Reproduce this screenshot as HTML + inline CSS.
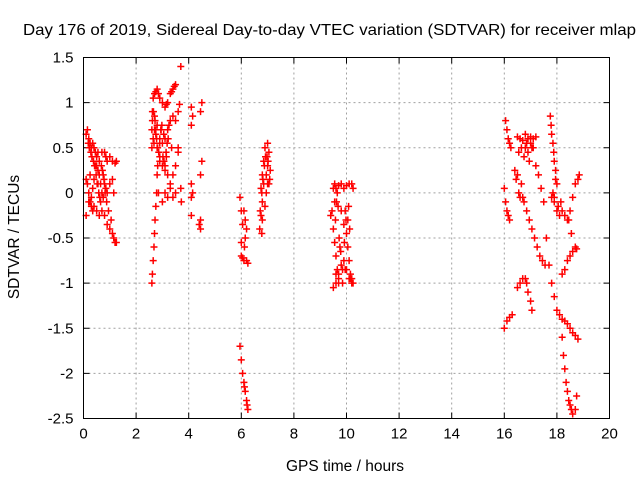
<!DOCTYPE html>
<html><head><meta charset="utf-8"><style>
body{margin:0;background:#fff}
svg{display:block;font-family:"Liberation Sans",sans-serif}
</style></head><body>
<svg id="chart" width="640" height="480" viewBox="0 0 640 480" xmlns="http://www.w3.org/2000/svg">
<text x="23" y="35" font-size="16" textLength="613" lengthAdjust="spacingAndGlyphs">Day 176 of 2019, Sidereal Day-to-day VTEC variation (SDTVAR) for receiver mlap</text>
<text x="345" y="471" font-size="15.5" text-anchor="middle">GPS time / hours</text>
<text x="19" y="237" font-size="15.5" text-anchor="middle" transform="rotate(-90 19 237)">SDTVAR / TECUs</text>
<g id="grid"></g>
<g id="ticks"></g>
<g id="marks"></g>
<rect x="83.5" y="57.5" width="526" height="361" fill="none" stroke="#000" stroke-width="1"/>
</svg>
<script>
const xTicks=[0,2,4,6,8,10,12,14,16,18,20];
const yTicks=[1.5,1,0.5,0,-0.5,-1,-1.5,-2,-2.5];
const yTickLabels=["1.5","1","0.5","0","-0.5","-1","-1.5","-2","-2.5"];
const hours=[
0.1,0.15,0.2,0.25,0.3,0.35,0.4,0.45,0.5,0.55,0.6,0.7,0.8,0.85,0.9,1.0,1.1,1.2,1.25,
0.1,0.15,0.2,0.25,0.3,0.35,0.4,0.45,0.5,0.55,0.6,0.65,0.7,0.75,0.8,0.85,0.9,1.0,1.1,1.15,
0.1,0.2,0.3,0.4,0.5,0.6,0.7,0.8,0.9,1.0,1.1,1.15,1.2,1.25,0.25,0.35,0.55,0.65,0.75,
0.18,0.22,0.28,0.32,0.38,0.42,0.48,0.52,0.58,0.62,0.68,0.72,0.78,0.82,0.88,0.95,1.05,
2.6,2.62,2.65,2.68,2.7,2.72,2.75,2.78,2.8,2.82,
2.6,2.6,2.62,2.65,2.7,2.75,2.8,2.85,2.9,3.0,3.1,3.15,3.2,3.3,3.35,3.4,3.45,3.5,
2.65,2.7,2.75,2.8,2.9,3.0,3.1,3.2,3.3,3.4,3.5,2.68,2.72,2.78,2.95,3.05,3.25,
2.8,2.9,3.0,3.1,3.2,3.3,3.4,3.5,3.6,2.85,3.0,3.1,3.2,3.3,3.4,3.5,2.9,3.15,3.35,
2.62,2.66,2.7,2.74,2.78,2.82,2.86,2.9,2.94,2.98,3.02,3.06,3.1,3.14,3.18,3.22,
3.7,3.65,3.6,3.72,3.7,3.6,
4.1,4.15,4.1,4.5,4.45,4.5,4.45,4.1,4.1,4.15,4.1,4.4,4.45,4.45,
5.95,6.0,6.05,6.0,6.1,6.2,6.15,6.2,6.15,6.1,6.05,6.0,6.25,6.12,
5.95,6.0,6.05,6.1,6.12,6.15,6.2,6.22,6.25,
6.7,6.75,6.8,6.75,6.8,6.85,6.9,7.0,7.05,7.0,6.95,7.0,7.1,6.8,6.9,6.85,6.95,7.05,6.78,
6.72,6.78,6.82,6.88,6.92,6.98,7.02,7.08,
9.5,9.55,9.6,9.65,9.7,9.8,9.9,10.0,10.1,10.2,10.25,9.45,9.5,9.55,9.6,9.65,9.7,
9.8,9.9,10.0,10.05,10.1,10.15,10.2,10.2,9.5,9.6,9.7,9.8,9.9,10.0,10.1,10.2,10.25,9.55,9.75,9.95,10.05,9.4,
9.58,9.62,9.68,9.72,9.78,9.85,9.92,9.98,10.08,10.12,9.6,9.7,9.85,9.95,10.15,
16.05,16.1,16.15,16.2,16.25,
16.5,16.6,16.7,16.8,16.9,17.0,17.1,17.2,16.55,16.65,16.75,16.85,16.95,17.05,
16.0,16.05,16.1,16.15,16.2,
16.4,16.45,16.5,16.55,16.6,16.65,16.7,
16.75,16.85,16.95,17.05,17.15,17.25,17.35,17.45,17.55,
17.75,17.78,17.8,17.85,17.88,17.9,17.95,18.0,17.85,17.9,
17.8,17.9,18.0,18.1,18.2,18.3,18.4,
18.5,18.6,18.7,18.8,18.85,
18.2,18.3,18.4,18.5,18.6,18.7,18.75,
16.5,16.6,16.7,16.8,16.85,16.9,17.0,17.05,
16.0,16.1,16.2,16.3,
17.7,17.8,17.9,18.0,18.1,18.2,18.3,18.4,18.5,18.6,18.7,18.8,
18.2,18.25,18.3,18.35,18.4,18.45,18.5,18.55,18.6,18.7,18.75,
16.8,16.9,17.0,17.1,17.2,17.3,17.4,17.5,17.6,17.95,18.05,18.15,18.45,18.55
];
const values=[
0.65,0.7,0.6,0.55,0.5,0.55,0.5,0.45,0.4,0.45,0.35,0.45,0.45,0.4,0.35,0.4,0.35,0.33,0.35,
0.15,0.1,0.0,-0.1,-0.15,0.05,0.15,0.3,0.3,0.25,0.2,0.1,0.0,-0.05,0.1,0.05,0.0,0.1,0.15,0.0,
-0.25,-0.1,-0.05,-0.15,-0.2,-0.25,-0.2,-0.25,-0.35,-0.4,-0.45,-0.5,-0.55,-0.55,0.2,-0.2,0.1,-0.1,0.2,
0.55,0.5,0.45,0.4,0.35,0.3,0.2,0.1,0.0,-0.05,0.3,0.25,0.15,0.0,-0.1,-0.2,-0.3,
-1.0,-0.9,-0.75,-0.6,-0.45,-0.3,-0.15,0.0,0.2,0.3,
0.5,0.7,0.9,1.05,1.1,1.12,1.15,1.1,1.05,1.0,0.95,0.98,1.0,1.1,1.12,1.15,1.18,1.2,
0.6,0.7,0.65,0.75,0.6,0.55,0.6,0.7,0.8,0.85,0.8,0.55,0.8,0.6,0.7,0.65,0.75,
0.5,0.4,0.3,0.25,0.2,0.1,0.2,0.3,0.45,0.0,-0.1,0.0,-0.05,0.05,-0.05,0.0,0.35,0.4,0.5,
0.8,0.9,0.85,0.7,0.6,0.5,0.45,0.55,0.7,0.75,0.4,0.35,0.3,0.45,0.55,0.6,
1.4,0.98,0.9,-0.1,0.05,0.5,
0.95,0.85,0.75,1.0,0.9,0.35,0.2,0.1,-0.05,0.0,-0.25,-0.35,-0.4,-0.3,
-0.05,-0.7,-0.72,-0.55,-0.75,-0.75,-0.5,-0.4,-0.3,-0.2,-0.35,-0.2,-0.78,-0.6,
-1.7,-1.85,-2.0,-2.1,-2.15,-2.2,-2.3,-2.35,-2.4,
-0.4,-0.25,-0.1,0.05,0.2,0.35,0.5,0.55,0.45,0.3,0.2,0.1,0.25,-0.3,-0.15,0.1,0.0,0.1,-0.45,
-0.2,0.0,0.15,0.3,0.4,0.4,0.35,0.15,
0.05,0.1,0.05,0.0,0.08,0.1,0.05,0.08,0.1,0.1,0.05,-0.2,-0.4,-0.55,-0.7,-0.85,-0.95,
-0.2,-0.35,-0.45,-0.6,-0.75,-0.9,-0.95,-1.0,-1.05,-1.0,-0.9,-0.8,-0.75,-0.85,-0.95,-1.0,-1.0,-0.1,-0.6,-0.2,-0.3,-0.25,
-0.3,-0.1,-0.15,-0.5,-0.65,-0.85,-0.55,-0.3,-0.15,-0.4,-0.9,-1.0,-1.0,-0.85,-0.95,
0.8,0.7,0.6,0.55,0.5,
0.62,0.6,0.58,0.65,0.6,0.62,0.6,0.62,0.45,0.5,0.4,0.55,0.35,0.5,
0.05,-0.1,-0.2,-0.25,-0.3,
0.25,0.15,0.2,0.0,-0.05,0.1,-0.05,
-0.1,-0.2,-0.3,-0.4,-0.5,-0.6,-0.7,-0.75,-0.8,
0.85,0.75,0.65,0.55,0.45,0.35,0.25,0.1,0.0,-0.05,
-0.05,-0.1,-0.2,-0.25,-0.2,-0.25,-0.3,
-0.2,-0.05,0.1,0.15,0.2,
-0.9,-0.85,-0.75,-0.7,-0.65,-0.6,-0.62,
-1.05,-1.0,-0.95,-0.95,-1.0,-1.1,-1.2,-1.3,
-1.5,-1.42,-1.38,-1.35,
-0.8,-1.0,-1.15,-1.3,-1.35,-1.4,-1.42,-1.45,-1.5,-1.55,-1.58,-1.62,
-1.6,-1.8,-1.95,-2.1,-2.2,-2.3,-2.35,-2.4,-2.45,-2.4,-2.25,
0.5,0.45,0.55,0.5,0.3,0.2,0.05,-0.1,-0.5,0.15,-0.15,-0.1,-0.3,-0.45
];
const NS="http://www.w3.org/2000/svg";
const L=83.5,R=609.5,T=57.5,B=418.5;
function sx(h){return L+(h-0)/(20-0)*(R-L);}
function sy(v){return B-(v-(-2.5))/(1.5-(-2.5))*(B-T);}
function mk(tag,attrs,parent){const e=document.createElementNS(NS,tag);for(const k in attrs)e.setAttribute(k,attrs[k]);parent.appendChild(e);return e;}
const grid=document.getElementById('grid'),ticks=document.getElementById('ticks'),marks=document.getElementById('marks');
xTicks.forEach(t=>{
  const x=sx(t);
  if(t>0&&t<20){const g=mk('line',{x1:x,x2:x,y1:T,y2:B,stroke:'#a0a0a0','stroke-dasharray':'2,3'},grid);
  
  }
  mk('line',{x1:x,x2:x,y1:B,y2:B-6,stroke:'#000'},ticks);
  mk('line',{x1:x,x2:x,y1:T,y2:T+6,stroke:'#000'},ticks);
  const lb=mk('text',{x:x,y:B+20,'font-size':'15','text-anchor':'middle'},ticks);
  lb.textContent=String(t);
  
  
});
yTicks.forEach((t,i)=>{
  const y=sy(t);
  if(t<1.5&&t>-2.5){const g=mk('line',{x1:L,x2:R,y1:y,y2:y,stroke:'#a0a0a0','stroke-dasharray':'2,3'},grid);
  
  }
  mk('line',{x1:L,x2:L+6,y1:y,y2:y,stroke:'#000'},ticks);
  mk('line',{x1:R,x2:R-6,y1:y,y2:y,stroke:'#000'},ticks);
  const lb=mk('text',{x:L-10,y:y+5,'font-size':'15','text-anchor':'end'},ticks);
  lb.textContent=yTickLabels[i];
  
  
});
let d='';
for(let i=0;i<hours.length;i++){
  const x=sx(hours[i]),y=sy(values[i]);
  d+=`M${x-3.5},${y}h7M${x},${y-3.5}v7`;
}
const p=mk('path',{d:d,stroke:'#ff0000','stroke-width':'1.5',fill:'none'},marks);


</script>
</body></html>
